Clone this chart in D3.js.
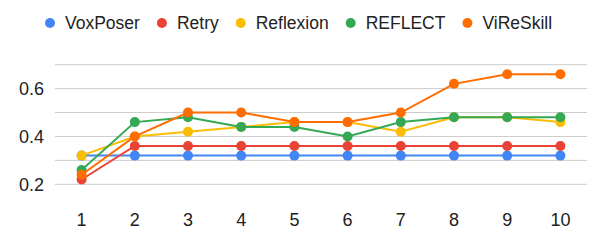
<!DOCTYPE html>
<html><head><meta charset="utf-8">
<script src="https://cdn.jsdelivr.net/npm/d3@7"></script>
<style>body{margin:0;background:#fff}svg{display:block;font-family:"Liberation Sans",Arial,sans-serif}</style>
</head><body><svg id="c" width="600" height="242"></svg>
<script>
const categories = ["1","2","3","4","5","6","7","8","9","10"];
const seriesNames = ["VoxPoser","Retry","Reflexion","REFLECT","ViReSkill"];
const colors = ["#4285F4","#EA4335","#FBBC04","#34A853","#FF6D01"];
const voxposer = [0.32,0.32,0.32,0.32,0.32,0.32,0.32,0.32,0.32,0.32];
const retry = [0.22,0.36,0.36,0.36,0.36,0.36,0.36,0.36,0.36,0.36];
const reflexion = [0.32,0.40,0.42,0.44,0.46,0.46,0.42,0.48,0.48,0.46];
const reflect = [0.26,0.46,0.48,0.44,0.44,0.40,0.46,0.48,0.48,0.48];
const vireskill = [0.24,0.40,0.50,0.50,0.46,0.46,0.50,0.62,0.66,0.66];
const gridTicks = [0.2,0.3,0.4,0.5,0.6,0.7];
const yTickLabels = [0.2,0.4,0.6];

const series = [voxposer,retry,reflexion,reflect,vireskill];
const svg = d3.select("#c");
const x = d3.scaleBand().domain(categories).range([55,587]);
const y = d3.scaleLinear().domain([0.2,0.7]).range([184.3,64.7]);
const cx = d => x(d) + x.bandwidth()/2;

svg.append("g").selectAll("line").data(gridTicks).join("line")
  .attr("x1",55).attr("x2",587).attr("y1",d=>y(d)).attr("y2",d=>y(d))
  .attr("stroke","#cccccc").attr("stroke-width",1);

svg.append("g").selectAll("text").data(yTickLabels).join("text")
  .attr("x",44).attr("y",d=>y(d)).attr("dy","0.35em").attr("text-anchor","end")
  .attr("font-size",18).attr("fill","#222").text(d=>d3.format(".1f")(d));

svg.append("g").selectAll("text").data(categories).join("text")
  .attr("x",d=>cx(d)).attr("y",226).attr("text-anchor","middle")
  .attr("font-size",18).attr("fill","#222").text(d=>d);

const line = d3.line().x((d,i)=>cx(categories[i])).y(d=>y(d));
series.forEach((s,k)=>{
  const g = svg.append("g");
  g.append("path").attr("d",line(s)).attr("fill","none").attr("stroke",colors[k]).attr("stroke-width",2);
  g.selectAll("circle").data(s).join("circle")
    .attr("cx",(d,i)=>cx(categories[i])).attr("cy",d=>y(d)).attr("r",5).attr("fill",colors[k]);
});

// legend (flow layout)
const lg = svg.append("g");
let lx = 50;
seriesNames.forEach((n,k)=>{
  lg.append("circle").attr("cx",lx).attr("cy",23).attr("r",5).attr("fill",colors[k]);
  const t = lg.append("text").attr("x",lx+15).attr("y",23).attr("dy","0.35em")
    .attr("font-size",17.5).attr("fill","#222").text(n);
  lx = lx + 15 + t.node().getComputedTextLength() + 22;
});
</script></body></html>
